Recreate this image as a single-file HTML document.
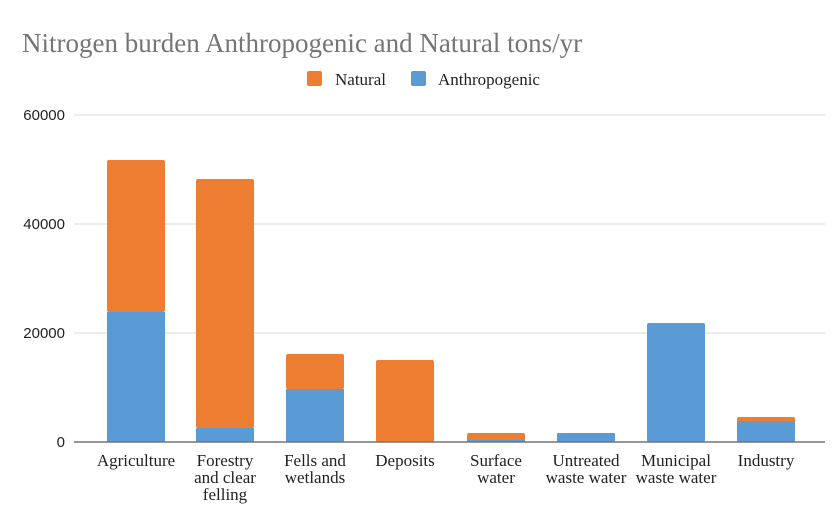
<!DOCTYPE html>
<html><head><meta charset="utf-8"><style>body{margin:0;background:#fff}</style></head><body>
<svg width="839" height="510" xmlns="http://www.w3.org/2000/svg">
<rect width="839" height="510" fill="#fff"/>
<text x="22" y="52" font-family="Liberation Serif, serif" font-size="27" fill="#757575">Nitrogen burden Anthropogenic and Natural tons/yr</text>
<rect x="307" y="71" width="15" height="15" rx="2" fill="#ed7d31"/>
<text x="335" y="85" font-family="Liberation Serif, serif" font-size="17" fill="#222">Natural</text>
<rect x="411" y="71" width="15" height="15" rx="2" fill="#5b9bd5"/>
<text x="438" y="85" font-family="Liberation Serif, serif" font-size="17" fill="#222">Anthropogenic</text>
<g stroke="#d9d9d9" stroke-width="1">
<line x1="74" y1="115" x2="825" y2="115"/><line x1="74" y1="224" x2="825" y2="224"/><line x1="74" y1="333" x2="825" y2="333"/>
</g>
<g font-family="Liberation Sans, sans-serif" font-size="15" fill="#222" text-anchor="end">
<text x="65" y="120">60000</text><text x="65" y="229">40000</text><text x="65" y="338">20000</text><text x="65" y="447">0</text>
</g>
<g fill="#ed7d31">
<rect x="107" y="160" width="58" height="152" rx="2"/>
<rect x="196" y="179" width="58" height="249" rx="2"/>
<rect x="286" y="354" width="58" height="35" rx="2"/>
<rect x="376" y="360" width="58" height="82" rx="2"/>
<rect x="467" y="433" width="58" height="8" rx="2"/>
<rect x="737" y="417" width="58" height="5" rx="2"/>
</g>
<g fill="#5b9bd5">
<rect x="107" y="312" width="58" height="130"/>
<rect x="196" y="428" width="58" height="14"/>
<rect x="286" y="389" width="58" height="53"/>
<rect x="467" y="440" width="58" height="2"/>
<rect x="557" y="433" width="58" height="9" rx="1"/>
<rect x="647" y="323" width="58" height="119" rx="2"/>
<rect x="737" y="421" width="58" height="21"/>
</g>
<line x1="74" y1="442" x2="825" y2="442" stroke="#757575" stroke-width="1.5"/>
<g font-family="Liberation Serif, serif" font-size="17" fill="#222" text-anchor="middle">
<text x="136" y="466">Agriculture</text>
<text x="225" y="466">Forestry</text><text x="225" y="483">and clear</text><text x="225" y="500">felling</text>
<text x="315" y="466">Fells and</text><text x="315" y="483">wetlands</text>
<text x="405" y="466">Deposits</text>
<text x="496" y="466">Surface</text><text x="496" y="483">water</text>
<text x="586" y="466">Untreated</text><text x="586" y="483">waste water</text>
<text x="676" y="466">Municipal</text><text x="676" y="483">waste water</text>
<text x="766" y="466">Industry</text>
</g>
</svg>
</body></html>
